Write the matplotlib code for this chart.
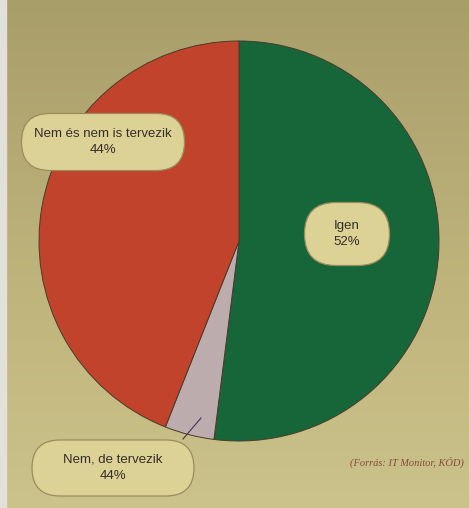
import numpy as np
import matplotlib.pyplot as plt
from matplotlib.patches import Rectangle, FancyBboxPatch
from matplotlib.colors import LinearSegmentedColormap

# slice data (clockwise from top)
labels = ["Igen", "Nem, de tervezik", "Nem és nem is tervezik"]
shares = [52, 4, 44]
label_pcts = ["52%", "44%", "44%"]
colors = ["#16663a", "#bcacae", "#c1432b"]

fig = plt.figure(figsize=(4.69, 5.08), dpi=100)

# paper-like background, darker at the top
bg = fig.add_axes([0, 0, 1, 1])
grad = np.linspace(0, 1, 256).reshape(-1, 1)
cmap = LinearSegmentedColormap.from_list("paper", ["#a89e6a", "#b6ab75", "#c2b87f", "#cbc28c"])
bg.imshow(grad, aspect="auto", cmap=cmap, extent=[0, 1, 0, 1])
bg.add_patch(Rectangle((0, 0), 0.013, 1, color="#e2e0da", transform=bg.transAxes))
bg.axis("off")

ax = fig.add_axes([39 / 469, 67 / 508, 400 / 469, 400 / 508])
ax.pie(shares, colors=colors, startangle=90, counterclock=False,
       wedgeprops=dict(edgecolor="#4a3a2a", linewidth=0.7), radius=1.0)
ax.set_xlim(-1, 1)
ax.set_ylim(-1, 1)
ax.set_aspect("equal")
ax.axis("off")

txt = dict(ha="center", va="center", fontsize=9.5, color="#332e2a", linespacing=1.55,
           family="Liberation Sans")


def pill(cx, cy, w, h, s):
    r = h / 2
    ax.add_patch(FancyBboxPatch((cx - w / 2 + r, cy - h / 2 + r), w - 2 * r, h - 2 * r,
                                boxstyle=f"round,pad={r}",
                                fc="#ddd296", ec="#9a8c5c", lw=0.9, clip_on=False))
    ax.text(cx, cy, s, clip_on=False, **txt)


pill(0.54, 0.035, 0.425, 0.315, f"{labels[0]}\n{label_pcts[0]}")
pill(-0.68, 0.495, 0.815, 0.285, f"{labels[2]}\n{label_pcts[2]}")
pill(-0.63, -1.135, 0.81, 0.28, f"{labels[1]}\n{label_pcts[1]}")
ax.plot([-0.19, -0.28], [-0.885, -0.99], color="#4a3050", lw=0.8, clip_on=False)

fig.text(0.99, 0.089, "(Forrás: IT Monitor, KÓD)", ha="right", va="center",
         fontsize=7.5, style="italic", family="Liberation Serif", color="#8a4a3a")

fig.savefig("out.png", dpi=100)
